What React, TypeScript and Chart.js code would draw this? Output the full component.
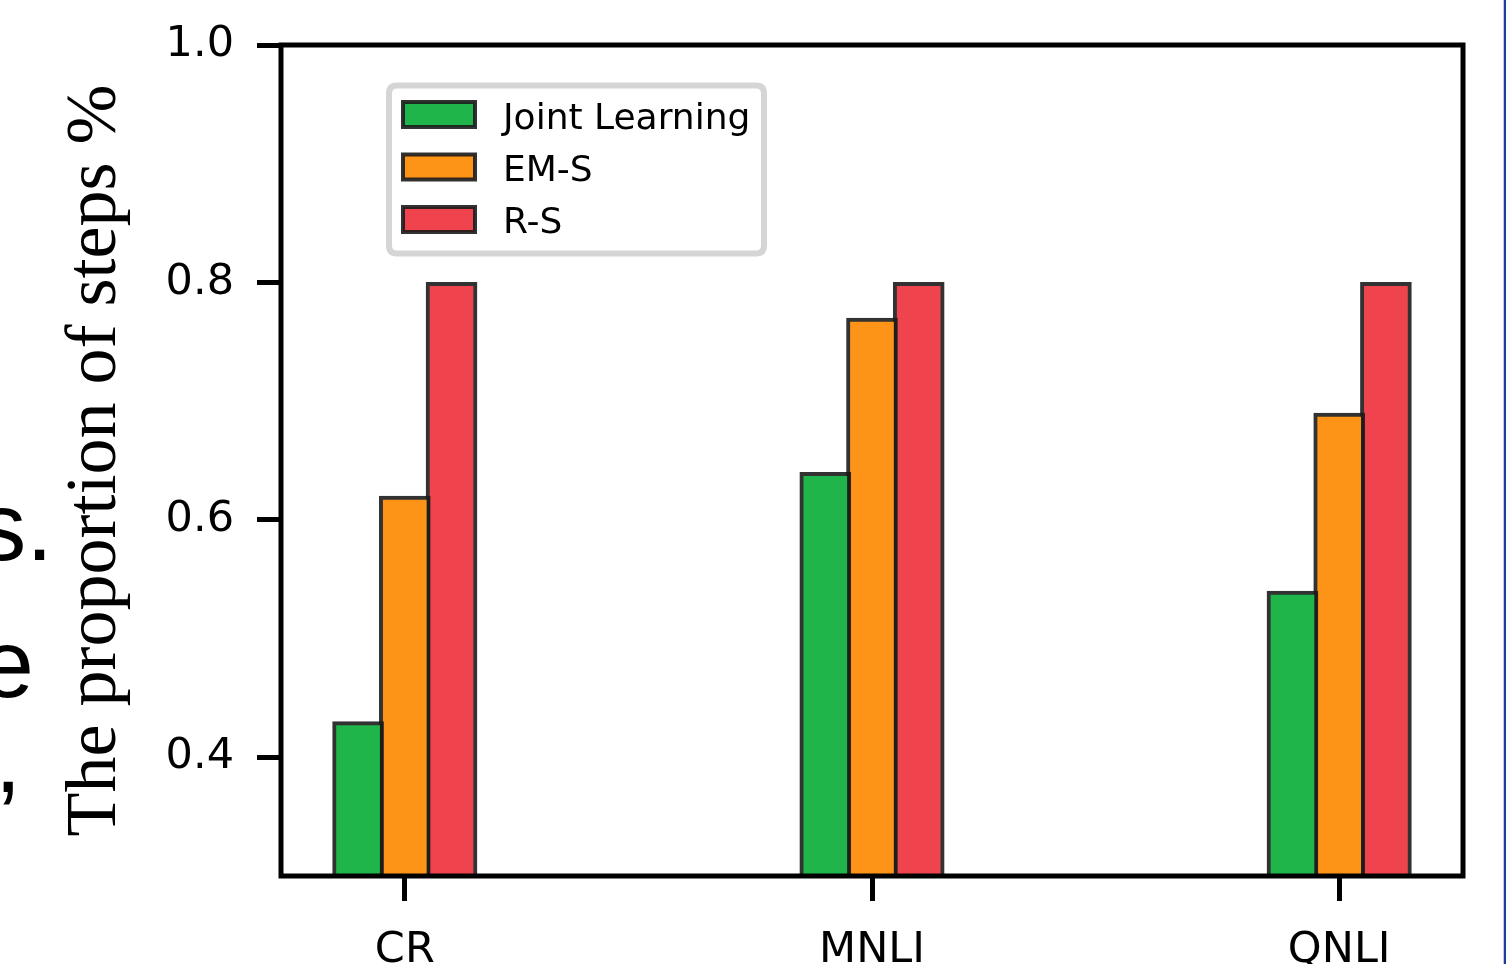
import React, { useEffect, useRef } from 'react';
import { Chart, registerables } from 'chart.js';

Chart.register(...registerables);

const categories = ['CR', 'MNLI', 'QNLI'];
const seriesNames = ['Joint Learning', 'EM-S', 'R-S'];
const jointLearning = [0.43, 0.64, 0.54];
const emS = [0.62, 0.77, 0.69];
const rS = [0.8, 0.8, 0.8];
const yTickValues = [0.4, 0.6, 0.8, 1.0];
const yTitle = 'The proportion of steps %';

const seriesValues = [jointLearning, emS, rS];
const seriesColors = ['#1fb54a', '#fd9317', '#ef444e'];
const BAR_STEP = 0.1;

const framePlugin = {
  id: 'frame',
  afterDatasetsDraw(chart: any) {
    const { ctx, chartArea } = chart;
    ctx.save();
    ctx.strokeStyle = '#000';
    ctx.lineWidth = 5;
    ctx.strokeRect(chartArea.left, chartArea.top, chartArea.right - chartArea.left, chartArea.bottom - chartArea.top);
    ctx.restore();
  },
};

const legendPlugin = {
  id: 'innerLegend',
  afterDraw(chart: any) {
    const ctx = chart.ctx;
    ctx.save();
    const x = 389, y = 85.5, w = 375, h = 168, r = 8;
    ctx.beginPath();
    ctx.moveTo(x + r, y);
    ctx.lineTo(x + w - r, y);
    ctx.quadraticCurveTo(x + w, y, x + w, y + r);
    ctx.lineTo(x + w, y + h - r);
    ctx.quadraticCurveTo(x + w, y + h, x + w - r, y + h);
    ctx.lineTo(x + r, y + h);
    ctx.quadraticCurveTo(x, y + h, x, y + h - r);
    ctx.lineTo(x, y + r);
    ctx.quadraticCurveTo(x, y, x + r, y);
    ctx.closePath();
    ctx.fillStyle = 'rgba(255,255,255,0.85)';
    ctx.fill();
    ctx.strokeStyle = '#d5d5d5';
    ctx.lineWidth = 6;
    ctx.stroke();

    chart.data.datasets.forEach((ds: any, i: number) => {
      const sy = 100 + i * 52.5;
      ctx.fillStyle = ds.backgroundColor;
      ctx.fillRect(403, sy + 2, 72, 25);
      ctx.strokeStyle = 'rgba(28,28,28,0.9)';
      ctx.lineWidth = 4;
      ctx.strokeRect(403, sy + 2, 72, 25);
      ctx.fillStyle = '#000';
      ctx.font = '36px "DejaVu Sans"';
      ctx.textAlign = 'left';
      ctx.textBaseline = 'alphabetic';
      ctx.fillText(ds.label, 503, 128.5 + i * 52.3);
    });
    ctx.restore();
  },
};

const edgePlugin = {
  id: 'edges',
  afterDraw(chart: any) {
    const ctx = chart.ctx;
    ctx.save();
    ctx.fillStyle = '#000';
    ctx.font = '96px "Liberation Sans"';
    ctx.textAlign = 'right';
    ctx.textBaseline = 'alphabetic';
    ctx.fillText('s.', 53, 560);
    ctx.fillText('e', 34, 697);
    ctx.fillText(',', 21.5, 792);
    ctx.fillStyle = '#c4c8e2';
    ctx.fillRect(1503, 0, 1, 964);
    ctx.fillStyle = '#1e3c9c';
    ctx.fillRect(1504, 0, 2, 964);
    ctx.restore();
  },
};

export default function App() {
  const ref = useRef<HTMLCanvasElement | null>(null);

  useEffect(() => {
    if (!ref.current) return;
    const tickFont = { family: 'DejaVu Sans', size: 43 };
    const chart = new Chart(ref.current, {
      type: 'bar',
      data: {
        datasets: seriesValues.map((vals, si) => ({
          label: seriesNames[si],
          data: vals.map((v, ci) => ({ x: ci + (si - 1) * BAR_STEP, y: v })),
          backgroundColor: seriesColors[si],
          borderColor: 'rgba(28,28,28,0.9)',
          borderWidth: 4,
          barThickness: 51,
          grouped: false,
        })),
      },
      options: {
        animation: false,
        responsive: false,
        devicePixelRatio: 1,
        layout: { padding: { left: 0, top: 45, right: 43, bottom: 0 } },
        plugins: { legend: { display: false }, tooltip: { enabled: false } },
        scales: {
          x: {
            type: 'linear',
            min: -0.265,
            max: 2.265,
            offset: false,
            afterBuildTicks: (s: any) => {
              s.ticks = categories.map((_, i) => ({ value: i }));
            },
            ticks: {
              callback: (v: any) => categories[Number(v)] ?? '',
              font: tickFont,
              color: '#000',
              padding: 24,
              maxRotation: 0,
              autoSkip: false,
            },
            grid: { display: true, offset: false, drawOnChartArea: false, drawTicks: true, tickLength: 25, tickWidth: 5, tickColor: '#000' },
            border: { display: false },
            afterFit: (s: any) => {
              s.height = 88;
              s.paddingLeft = 0;
              s.paddingRight = 0;
            },
          },
          y: {
            type: 'linear',
            min: 0.3,
            max: 1.0,
            afterBuildTicks: (s: any) => {
              s.ticks = yTickValues.map((v) => ({ value: v }));
            },
            ticks: {
              callback: (v: any) => Number(v).toFixed(1),
              font: tickFont,
              color: '#000',
              padding: 23,
            },
            grid: { display: true, drawOnChartArea: false, drawTicks: true, tickLength: 24, tickWidth: 5, tickColor: '#000' },
            border: { display: false },
            title: {
              display: true,
              text: yTitle,
              color: '#000',
              font: { family: 'Liberation Serif', size: 72 },
              padding: { top: 53, bottom: 0 },
            },
            afterFit: (s: any) => {
              s.width = 281;
              s.paddingTop = 0;
              s.paddingBottom = 0;
            },
          },
        },
      },
      plugins: [framePlugin, legendPlugin, edgePlugin],
    } as any);
    return () => chart.destroy();
  }, []);

  return (
    <div style={{ position: 'absolute', left: 0, top: 0, width: 1506, height: 964, background: '#fff' }}>
      <canvas ref={ref} width={1506} height={964} style={{ display: 'block' }} />
    </div>
  );
}
